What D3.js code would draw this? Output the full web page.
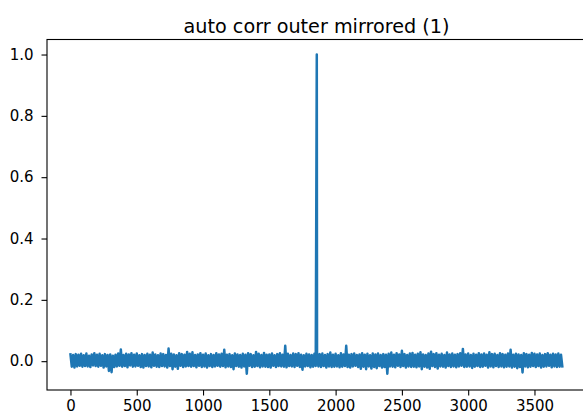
<!DOCTYPE html>
<html>
<head>
<meta charset="utf-8">
<script src="https://cdn.jsdelivr.net/npm/d3@7"></script>
<style>
  html, body { margin: 0; padding: 0; background: #fff; }
  svg { display: block; }
  text { font-family: "DejaVu Sans", sans-serif; fill: #000; }
</style>
</head>
<body>
<svg id="chart" width="583" height="416"></svg>
<script>
// ---- data ----
const chartTitle = "auto corr outer mirrored (1)";
const lagStep = 10;               // samples every 10 lags
// autocorrelation noise samples, in thousandths
const noiseValues = [
  22,-18,20,-21,23,-17,21,-15,24,-18,
  19,-16,25,-17,18,-19,22,-14,26,-16,
  21,-18,24,-15,19,-21,23,-17,20,-32,
  22,-36,18,-19,21,-17,25,-15,38,-18,
  20,-16,24,-20,22,-14,26,-18,21,-17,
  25,-15,19,-19,23,-21,20,-16,24,-17,
  21,-20,28,-15,22,-18,19,-19,25,-16,
  23,-17,20,-21,41,-16,24,-26,22,-18,
  19,-25,26,-15,23,-19,21,-17,30,-16,
  24,-18,29,-16,20,-20,22,-15,26,-19,
  21,-17,25,-21,19,-16,23,-19,20,-17,
  26,-15,22,-18,24,-16,37,-20,21,-17,
  23,-19,19,-26,25,-16,22,-18,20,-21,
  24,-17,21,-41,26,-15,23,-19,19,-18,
  30,-16,24,-20,20,-17,27,-18,21,-19,
  22,-21,25,-15,19,-19,23,-16,26,-17,
  21,-18,50,-20,24,-16,20,-17,25,-19,
  23,-15,26,-19,21,-28,19,-17,24,-16,
  22,-20,20,-18,24,-16,26,-17,23,-19,
  25,-16,20,-21,23,-17,28,-19,21,-18,
  24,-17,19,-20,26,-18,22,-16,50,-19,
  21,-21,23,-17,25,-15,20,-19,22,-25,
  26,-18,21,-26,24,-17,19,-24,25,-19,
  22,-23,25,-16,20,-21,23,-19,21,-41,
  24,-17,28,-18,21,-20,26,-15,22,-19,
  34,-16,23,-21,20,-17,25,-19,27,-18,
  21,-20,24,-17,29,-26,22,-18,20,-21,
  25,-25,31,-16,23,-19,26,-24,21,-17,
  24,-18,20,-21,28,-16,22,-19,25,-17,
  21,-20,23,-17,26,-15,40,-19,22,-18,
  25,-17,20,-22,24,-18,21,-16,26,-19,
  22,-18,25,-15,21,-21,29,-17,23,-20,
  24,-16,20,-19,26,-17,23,-20,21,-18,
  25,-17,37,-21,21,-18,24,-23,22,-19,
  20,-37,26,-17,23,-20,21,-18,27,-16,
  24,-19,22,-16,25,-21,20,-18,23,-17,
  26,-15,21,-20,24,-17,22,-19,25,-18,
  21,-17
];
const peakLags = [1858];
const peakValues = [1.0];
const xTickValues = [0, 500, 1000, 1500, 2000, 2500, 3000, 3500];
const yTickValues = [0.0, 0.2, 0.4, 0.6, 0.8, 1.0];

// ---- build series ----
const series = noiseValues.map((v, i) => ({ lag: i * lagStep, value: v / 1000 }));
peakLags.forEach((l, i) => series.push({ lag: l, value: peakValues[i] }));
series.sort((a, b) => a.lag - b.lag);

// ---- layout ----
const svg = d3.select("#chart");
const plotLeft = 47, plotTop = 39.5, plotBottom = 390, plotRight = 587.5;

const x = d3.scaleLinear().domain([-177, 3900]).range([plotLeft, plotRight]);
const y = d3.scaleLinear().domain([-0.094, 1.049]).range([plotBottom, plotTop]);

// line
const line = d3.line().x(d => x(d.lag)).y(d => y(d.value));
svg.append("path")
  .datum(series)
  .attr("d", line)
  .attr("fill", "none")
  .attr("stroke", "#1f77b4")
  .attr("stroke-width", 2.5)
  .attr("stroke-linejoin", "round")
  .attr("stroke-linecap", "square");

// axes
const xAxis = d3.axisBottom(x).tickValues(xTickValues).tickFormat(d3.format("d"))
  .tickSize(5.5).tickPadding(5);
const yAxis = d3.axisLeft(y).tickValues(yTickValues).tickFormat(d3.format(".1f"))
  .tickSize(5.5).tickPadding(8);

const gx = svg.append("g").attr("transform", `translate(0,${plotBottom})`).call(xAxis);
const gy = svg.append("g").attr("transform", `translate(${plotLeft},0)`).call(yAxis);
[gx, gy].forEach(g => {
  g.select(".domain").remove();
  g.selectAll(".tick line").attr("stroke", "#000").attr("stroke-width", 1.1);
  g.selectAll(".tick text").attr("font-size", 15).attr("font-family", "DejaVu Sans, sans-serif").attr("fill", "#1a1a1a");
});

// spines
svg.append("rect")
  .attr("x", plotLeft).attr("y", plotTop)
  .attr("width", plotRight - plotLeft).attr("height", plotBottom - plotTop)
  .attr("fill", "none").attr("stroke", "#000").attr("stroke-width", 1.1);

// title
svg.append("text")
  .attr("x", 316.5)
  .attr("y", 32.5)
  .attr("text-anchor", "middle")
  .attr("font-size", 19.2)
  .attr("fill", "#1a1a1a")
  .text(chartTitle);
</script>
</body>
</html>
